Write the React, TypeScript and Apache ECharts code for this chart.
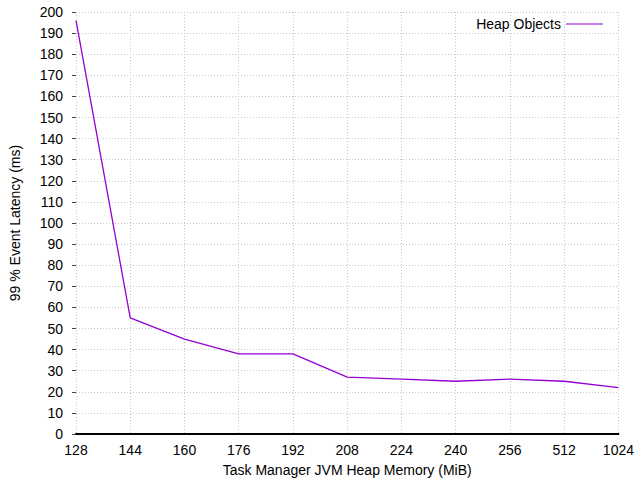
import React, { useEffect, useRef } from "react";
import * as echarts from "echarts";

const categories = ["128", "144", "160", "176", "192", "208", "224", "240", "256", "512", "1024"];
const heapObjects = [196, 55, 45, 38, 38, 27, 26, 25, 26, 25, 22];

export default function App() {
  const ref = useRef<HTMLDivElement>(null);
  useEffect(() => {
    if (!ref.current) return;
    const chart = echarts.init(ref.current, undefined, { renderer: "svg" });
    const font = "Liberation Sans, Arial, sans-serif";
    chart.setOption({
      animation: false,
      backgroundColor: "#fff",
      textStyle: { fontFamily: font },
      grid: { left: 76, right: 17, top: 12, bottom: 45 },
      legend: {
        data: ["Heap Objects"],
        top: 12,
        right: 29,
        align: "right",
        itemWidth: 37,
        itemHeight: 10,
        itemGap: 9,
        icon: "path://M0,4.5L37,4.5L37,5.5L0,5.5Z",
        textStyle: { fontSize: 14, color: "#000", fontFamily: font },
      },
      xAxis: {
        type: "category",
        data: categories,
        boundaryGap: false,
        name: "Task Manager JVM Heap Memory (MiB)",
        nameLocation: "middle",
        nameGap: 29,
        nameTextStyle: { fontSize: 14, color: "#000", fontFamily: font },
        axisLine: { show: true, lineStyle: { color: "#000", width: 2 } },
        axisTick: { show: false },
        axisLabel: { fontSize: 14, color: "#000", margin: 9, fontFamily: font },
        splitLine: { show: true, lineStyle: { color: "#c8c8c8", type: [1, 2], width: 1 } },
      },
      yAxis: {
        type: "value",
        min: 0,
        max: 200,
        interval: 10,
        name: "99 % Event Latency (ms)",
        nameLocation: "middle",
        nameGap: 54,
        nameTextStyle: { fontSize: 14, color: "#000", fontFamily: font },
        axisLine: { show: false },
        axisTick: { show: true, length: 4, lineStyle: { color: "#444" } },
        axisLabel: { fontSize: 14, color: "#000", margin: 13, fontFamily: font },
        splitLine: { show: true, lineStyle: { color: "#c8c8c8", type: [1, 2], width: 1 } },
      },
      series: [
        {
          name: "Heap Objects",
          type: "line",
          data: heapObjects,
          symbol: "none",
          lineStyle: { color: "#9400d3", width: 1.3 },
          itemStyle: { color: "#9400d3" },
        },
      ],
    });
    return () => chart.dispose();
  }, []);
  return <div ref={ref} style={{ width: 637, height: 482, position: "absolute", left: 0, top: 0 }} />;
}
